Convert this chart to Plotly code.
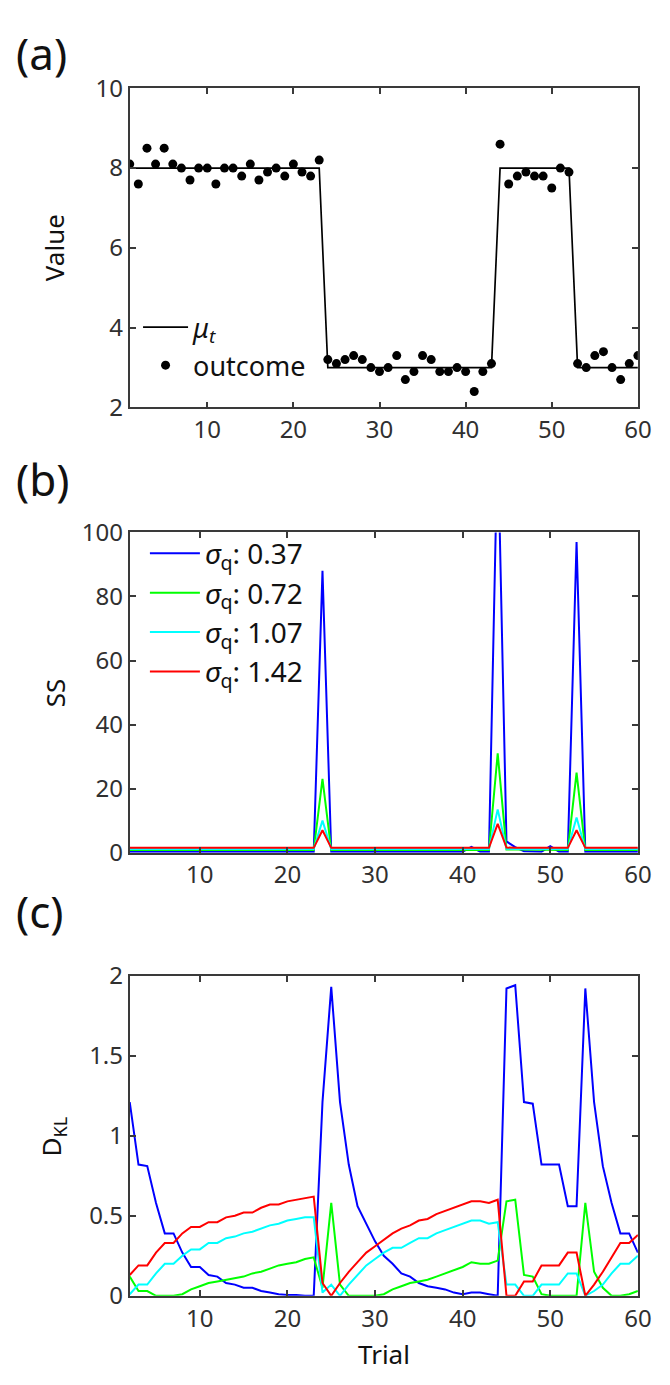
import plotly.graph_objects as go

# ---------------- data ----------------
# (a) true mean and observed outcomes, trials 1..60
trials_a = list(range(1, 61))
mu_t = [8, 8, 8, 8, 8, 8, 8, 8, 8, 8, 8, 8, 8, 8, 8, 8, 8, 8, 8, 8, 8, 8, 8,
        3, 3, 3, 3, 3, 3, 3, 3, 3, 3, 3, 3, 3, 3, 3, 3, 3, 3, 3, 3,
        8, 8, 8, 8, 8, 8, 8, 8, 8,
        3, 3, 3, 3, 3, 3, 3, 3]
outcome = [8.1, 7.6, 8.5, 8.1, 8.5, 8.1, 8.0, 7.7, 8.0, 8.0, 7.6, 8.0, 8.0, 7.8, 8.1, 7.7,
           7.9, 8.0, 7.8, 8.1, 7.9, 7.8, 8.2,
           3.2, 3.1, 3.2, 3.3, 3.2, 3.0, 2.9, 3.0, 3.3, 2.7, 2.9, 3.3, 3.2, 2.9, 2.9, 3.0,
           2.9, 2.4, 2.9, 3.1,
           8.6, 7.6, 7.8, 7.9, 7.8, 7.8, 7.5, 8.0, 7.9,
           3.1, 3.0, 3.3, 3.4, 3.0, 2.7, 3.1, 3.3]

# (b),(c) trials 2..60
trials = list(range(2, 61))
sigma_labels = ["0.37", "0.72", "1.07", "1.42"]
colors = ["#0000ff", "#00ff00", "#00ffff", "#ff0000"]

ss_037 = [0.3, 0.3, 0.3, 0.3, 0.3, 0.3, 0.3, 0.3, 0.3, 0.3, 0.3, 0.3, 0.3, 0.3, 0.3, 0.3,
          0.3, 0.3, 0.3, 0.3, 0.3, 0.3, 88, 0.3, 0.3, 0.3, 0.3, 0.3, 0.3, 0.3, 0.3, 0.3,
          0.3, 0.3, 0.3, 0.3, 0.3, 0.3, 0.3, 1.8, 0.3, 0.3, 130, 3.5, 1.7, 0.4, 0.3, 0.3,
          2.0, 0.3, 0.3, 97, 0.3, 0.3, 0.3, 0.3, 0.3, 0.3, 0.3]
ss_072 = [0.8, 0.8, 0.8, 0.8, 0.8, 0.8, 0.8, 0.8, 0.8, 0.8, 0.8, 0.8, 0.8, 0.8, 0.8, 0.8,
          0.8, 0.8, 0.8, 0.8, 0.8, 0.8, 23, 0.8, 0.8, 0.8, 0.8, 0.8, 0.8, 0.8, 0.8, 0.8,
          0.8, 0.8, 0.8, 0.8, 0.8, 0.8, 0.8, 0.9, 0.8, 0.8, 31, 1.0, 1.0, 1.0, 1.0, 1.0,
          1.0, 0.8, 0.8, 25, 0.8, 0.8, 0.8, 0.8, 0.8, 0.8, 0.8]
ss_107 = [1.1, 1.1, 1.1, 1.1, 1.1, 1.1, 1.1, 1.1, 1.1, 1.1, 1.1, 1.1, 1.1, 1.1, 1.1, 1.1,
          1.1, 1.1, 1.1, 1.1, 1.1, 1.1, 10, 1.1, 1.1, 1.1, 1.1, 1.1, 1.1, 1.1, 1.1, 1.1,
          1.1, 1.1, 1.1, 1.1, 1.1, 1.1, 1.1, 1.1, 1.1, 1.1, 13.5, 1.2, 1.1, 1.1, 1.1, 1.1,
          1.1, 1.1, 1.1, 11, 1.1, 1.1, 1.1, 1.1, 1.1, 1.1, 1.1]
ss_142 = [1.5, 1.5, 1.5, 1.5, 1.5, 1.5, 1.5, 1.5, 1.5, 1.5, 1.5, 1.5, 1.5, 1.5, 1.5, 1.5,
          1.5, 1.5, 1.5, 1.5, 1.5, 1.5, 7, 1.5, 1.5, 1.5, 1.5, 1.5, 1.5, 1.5, 1.5, 1.5,
          1.5, 1.5, 1.5, 1.5, 1.5, 1.5, 1.5, 1.5, 1.5, 1.5, 9, 1.6, 1.5, 1.5, 1.5, 1.5,
          1.5, 1.5, 1.5, 7, 1.5, 1.5, 1.5, 1.5, 1.5, 1.5, 1.5]

dkl_037 = [1.21, 0.82, 0.81, 0.58, 0.39, 0.39, 0.27, 0.18, 0.18, 0.13, 0.12, 0.08, 0.07,
           0.05, 0.05, 0.03, 0.02, 0.01, 0.005, 0.005, 0.0, 0.0,
           1.21, 1.93, 1.21, 0.82, 0.56, 0.45, 0.34, 0.25, 0.20, 0.14, 0.12, 0.08, 0.06,
           0.05, 0.04, 0.02, 0.01, 0.02, 0.02, 0.01, 0.0,
           1.92, 1.94, 1.21, 1.20, 0.82, 0.82, 0.82, 0.56, 0.56, 1.92, 1.21, 0.81, 0.58,
           0.39, 0.39, 0.27]
dkl_072 = [0.12, 0.03, 0.03, 0.0, 0.0, 0.0, 0.01, 0.04, 0.06, 0.08, 0.09, 0.10, 0.11,
           0.12, 0.14, 0.15, 0.17, 0.19, 0.20, 0.21, 0.23, 0.24,
           0.05, 0.58, 0.07, 0.0, 0.0, 0.0, 0.0, 0.01, 0.04, 0.06, 0.08, 0.09, 0.10,
           0.12, 0.14, 0.16, 0.18, 0.21, 0.20, 0.20, 0.22,
           0.59, 0.60, 0.13, 0.12, 0.01, 0.0, 0.0, 0.0, 0.0, 0.58, 0.15, 0.05, 0.0,
           0.0, 0.01, 0.03]
dkl_107 = [0.01, 0.07, 0.07, 0.14, 0.20, 0.20, 0.25, 0.29, 0.29, 0.33, 0.33, 0.36, 0.37,
           0.39, 0.40, 0.42, 0.44, 0.45, 0.47, 0.48, 0.49, 0.49,
           0.02, 0.07, 0.0, 0.07, 0.13, 0.19, 0.23, 0.27, 0.30, 0.30, 0.33, 0.36, 0.36,
           0.39, 0.41, 0.43, 0.45, 0.47, 0.47, 0.45, 0.46,
           0.07, 0.07, 0.0, 0.0, 0.07, 0.07, 0.07, 0.14, 0.14, 0.0, 0.03, 0.07, 0.14,
           0.20, 0.20, 0.25]
dkl_142 = [0.13, 0.19, 0.19, 0.27, 0.33, 0.33, 0.39, 0.43, 0.43, 0.46, 0.46, 0.49, 0.50,
           0.52, 0.52, 0.55, 0.57, 0.57, 0.59, 0.60, 0.61, 0.62,
           0.08, 0.0, 0.08, 0.15, 0.21, 0.27, 0.31, 0.35, 0.39, 0.42, 0.44, 0.47, 0.48,
           0.51, 0.53, 0.55, 0.57, 0.59, 0.59, 0.58, 0.60,
           0.0, 0.0, 0.09, 0.09, 0.19, 0.19, 0.19, 0.27, 0.27, 0.0, 0.07, 0.15, 0.24,
           0.33, 0.33, 0.38]

ss_series = [ss_037, ss_072, ss_107, ss_142]
dkl_series = [dkl_037, dkl_072, dkl_107, dkl_142]

# ---------------- figure ----------------
W, H = 670, 1385
FONT = "Noto Sans"
AX = "#3a3a3a"

fig = go.Figure()

fig.add_trace(go.Scatter(x=trials_a, y=mu_t, mode="lines",
                         line=dict(color="black", width=1.7),
                         name="<i>μ<sub>t</sub></i>", legend="legend",
                         xaxis="x", yaxis="y"))
fig.add_trace(go.Scatter(x=trials_a, y=outcome, mode="markers",
                         marker=dict(color="black", size=9),
                         name="outcome", legend="legend",
                         xaxis="x", yaxis="y"))

for lab, col, ys in zip(sigma_labels, colors, ss_series):
    fig.add_trace(go.Scatter(x=trials, y=ys, mode="lines",
                             line=dict(color=col, width=2),
                             name=f"<i>σ</i><sub>q</sub>: {lab}", legend="legend2",
                             xaxis="x2", yaxis="y2"))

for lab, col, ys in zip(sigma_labels, colors, dkl_series):
    fig.add_trace(go.Scatter(x=trials, y=ys, mode="lines",
                             line=dict(color=col, width=2),
                             showlegend=False,
                             xaxis="x3", yaxis="y3"))


def py(px):
    return 1 - px / H


x_dom = [132.5 / W, 651.5 / W]
common_ax = dict(showline=True, linecolor=AX, linewidth=1.8, mirror="ticks",
                 ticks="inside", ticklen=6, tickwidth=1.5, tickcolor=AX,
                 showgrid=False, zeroline=False,
                 tickfont=dict(family=FONT, size=24, color="#303030"))

fig.update_layout(
    width=W, height=H, margin=dict(l=0, r=0, t=0, b=0),
    paper_bgcolor="white", plot_bgcolor="white",
    font=dict(family=FONT, color="#262626"),
    xaxis=dict(domain=x_dom, range=[1, 60], tickvals=[10, 20, 30, 40, 50, 60],
               anchor="y", **common_ax),
    yaxis=dict(domain=[py(399), py(72)], range=[2, 10], tickvals=[2, 4, 6, 8, 10],
               anchor="x", **common_ax),
    xaxis2=dict(domain=x_dom, range=[2, 60], tickvals=[10, 20, 30, 40, 50, 60],
                anchor="y2", **common_ax),
    yaxis2=dict(domain=[py(855), py(527)], range=[0, 100],
                tickvals=[0, 20, 40, 60, 80, 100], anchor="x2", **common_ax),
    xaxis3=dict(domain=x_dom, range=[2, 60], tickvals=[10, 20, 30, 40, 50, 60],
                anchor="y3", **common_ax),
    yaxis3=dict(domain=[py(1309), py(981)], range=[0, 2],
                tickvals=[0, 0.5, 1, 1.5, 2], ticktext=["0", "0.5", "1", "1.5", "2"],
                anchor="x3", **common_ax),
    legend=dict(x=141 / W, y=py(292), xanchor="left", yanchor="top",
                bgcolor="rgba(0,0,0,0)", font=dict(family=FONT, size=27, color="#111"),
                itemwidth=45, tracegroupgap=0),
    legend2=dict(x=148 / W, y=py(523), xanchor="left", yanchor="top",
                 bgcolor="rgba(0,0,0,0)", font=dict(family=FONT, size=28, color="#111"),
                 itemwidth=50, tracegroupgap=0),
)

annotations = [
    dict(text="(a)", x=14 / W, y=py(36), xanchor="left", yanchor="middle", font_size=44),
    dict(text="(b)", x=14 / W, y=py(472), xanchor="left", yanchor="middle", font_size=44),
    dict(text="(c)", x=14 / W, y=py(915), xanchor="left", yanchor="middle", font_size=44),
    dict(text="Value", x=56 / W, y=py(235), textangle=-90, font_size=26),
    dict(text="SS", x=56 / W, y=py(691), textangle=-90, font_size=26),
    dict(text="D<sub>KL</sub>", x=53 / W, y=py(1146), textangle=-90, font_size=26),
    dict(text="Trial", x=392 / W, y=py(1369), font_size=26),
]
for a in annotations:
    a.setdefault("xanchor", "center")
    a.setdefault("yanchor", "middle")
    a.update(xref="paper", yref="paper", showarrow=False)
    a["font"] = dict(family=FONT, size=a.pop("font_size"), color="#111")
fig.update_layout(annotations=annotations)

fig.write_html("out.html")
